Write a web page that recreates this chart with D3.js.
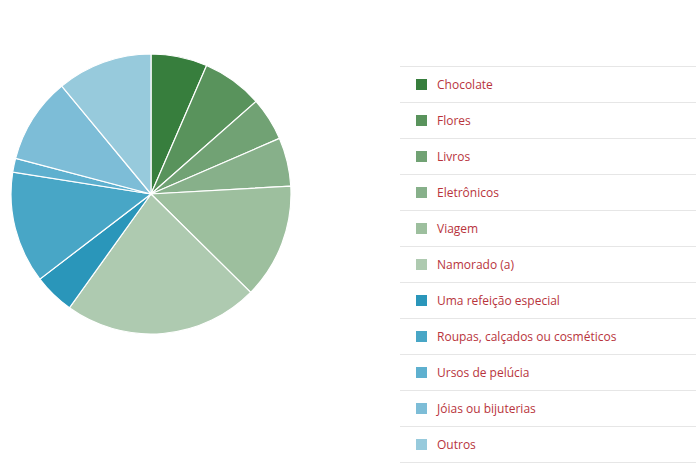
<!DOCTYPE html>
<html>
<head>
<meta charset="utf-8">
<script src="https://cdn.jsdelivr.net/npm/d3@7"></script>
<style>
  body { margin: 0; background: #fff; font-family: 'Open Sans', sans-serif; }
  svg { display: block; }
</style>
</head>
<body>
<svg id="chart" width="696" height="468"></svg>
<script>
const categories = ["Chocolate", "Flores", "Livros", "Eletrônicos", "Viagem", "Namorado (a)",
  "Uma refeição especial", "Roupas, calçados ou cosméticos", "Ursos de pelúcia",
  "Jóias ou bijuterias", "Outros"]
const values = [6.5, 7.0, 5.0, 5.6, 13.3, 22.5, 4.7, 12.9, 1.6, 9.9, 11.0]
const colors = ["#377e3d", "#59935c", "#71a274", "#87b08a", "#9dbf9e", "#aecab0",
  "#2a96ba", "#48a6c6", "#5eb0cf", "#7dbdd7", "#97cadc"]

const svg = d3.select("#chart")

// pie
const cx = 151, cy = 194, radius = 140
const pie = d3.pie().sort(null).value(d => d.value)
const arc = d3.arc().innerRadius(0).outerRadius(radius)
const data = categories.map((c, i) => ({ name: c, value: values[i], color: colors[i] }))

svg.append("g")
  .attr("transform", `translate(${cx},${cy})`)
  .selectAll("path")
  .data(pie(data))
  .join("path")
    .attr("d", arc)
    .attr("fill", d => d.data.color)
    .attr("stroke", "#fff")
    .attr("stroke-width", 1.2)

// legend
const rowH = 36, legendTop = 66, lx = 400
const y = d3.scaleBand().domain(categories).range([legendTop, legendTop + rowH * categories.length])

const legend = svg.append("g")
legend.selectAll("line")
  .data(d3.range(categories.length + 1))
  .join("line")
    .attr("x1", lx).attr("x2", 696)
    .attr("y1", i => legendTop + i * rowH + 0.5)
    .attr("y2", i => legendTop + i * rowH + 0.5)
    .attr("stroke", "#e6e6e6")

const rows = legend.selectAll("g.row")
  .data(data)
  .join("g")
    .attr("class", "row")
    .attr("transform", d => `translate(0,${y(d.name)})`)

rows.append("rect")
  .attr("x", 416).attr("y", 13)
  .attr("width", 11).attr("height", 11)
  .attr("fill", d => d.color)

rows.append("text")
  .attr("x", 437).attr("y", 19)
  .attr("dy", "0.35em")
  .attr("font-size", 12)
  .attr("fill", "#b8343c")
  .text(d => d.name)
</script>
</body>
</html>
